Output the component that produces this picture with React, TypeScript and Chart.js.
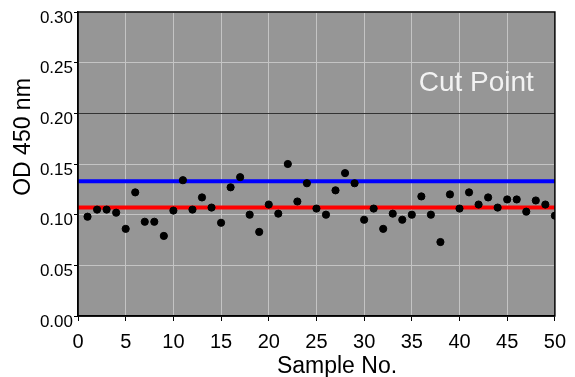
import React, { useEffect, useRef } from "react";
import { Chart, registerables } from "chart.js";

Chart.register(...registerables);

const sampleNo = [
  1, 2, 3, 4, 5, 6, 7, 8, 9, 10,
  11, 12, 13, 14, 15, 16, 17, 18, 19, 20,
  21, 22, 23, 24, 25, 26, 27, 28, 29, 30,
  31, 32, 33, 34, 35, 36, 37, 38, 39, 40,
  41, 42, 43, 44, 45, 46, 47, 48, 49, 50,
];
const od450 = [
  0.098, 0.105, 0.105, 0.102, 0.086, 0.122, 0.093, 0.093, 0.079, 0.104,
  0.134, 0.105, 0.117, 0.107, 0.092, 0.127, 0.137, 0.100, 0.083, 0.110,
  0.101, 0.150, 0.113, 0.131, 0.106, 0.100, 0.124, 0.141, 0.131, 0.095,
  0.106, 0.086, 0.101, 0.095, 0.100, 0.118, 0.100, 0.073, 0.120, 0.106,
  0.122, 0.110, 0.117, 0.107, 0.115, 0.115, 0.103, 0.114, 0.110, 0.099,
];
const meanLevel = 0.107;
const cutPointLevel = 0.133;
const xRange = [0, 50];
const yRange = [0, 0.3];
const cutPointLabel = "Cut Point";
const xTitle = "Sample No.";
const yTitle = "OD 450 nm";

const FONT = "'Liberation Sans', Arial, sans-serif";

const decorPlugin = {
  id: "decor",
  beforeDraw(chart: any) {
    const { ctx, chartArea } = chart;
    ctx.save();
    ctx.fillStyle = "#969696";
    ctx.fillRect(chartArea.left, chartArea.top, chartArea.right - chartArea.left, chartArea.bottom - chartArea.top);
    ctx.restore();
  },
  afterDraw(chart: any) {
    const { ctx, chartArea, scales } = chart;
    ctx.save();
    ctx.strokeStyle = "#000";
    ctx.lineWidth = 1.5;
    ctx.strokeRect(chartArea.left, chartArea.top, chartArea.right - chartArea.left, chartArea.bottom - chartArea.top);
    ctx.fillStyle = "#f2f2f2";
    ctx.font = `28px ${FONT}`;
    ctx.textAlign = "right";
    ctx.textBaseline = "alphabetic";
    ctx.fillText(cutPointLabel, scales.x.getPixelForValue(47.8), scales.y.getPixelForValue(0.2225));
    ctx.fillStyle = "#000";
    ctx.font = `23px ${FONT}`;
    ctx.textAlign = "center";
    ctx.fillText(xTitle, 337, 373);
    ctx.translate(24, 137);
    ctx.rotate(-Math.PI / 2);
    ctx.textBaseline = "middle";
    ctx.fillText(yTitle, 0, 0);
    ctx.restore();
  },
};

export default function App() {
  const ref = useRef<HTMLCanvasElement>(null);
  useEffect(() => {
    if (!ref.current) return;
    const chart = new Chart(ref.current, {
      type: "scatter",
      data: {
        datasets: [
          {
            label: "OD 450",
            data: sampleNo.map((s, i) => ({ x: s, y: od450[i] })),
            backgroundColor: "#000",
            borderColor: "#000",
            pointRadius: 3.6,
            pointHoverRadius: 3.6,
            order: 0,
          },
          {
            label: "Cut point",
            type: "line",
            data: xRange.map((x) => ({ x, y: cutPointLevel })),
            borderColor: "#0000ff",
            borderWidth: 4,
            pointRadius: 0,
            order: 1,
          },
          {
            label: "Mean",
            type: "line",
            data: xRange.map((x) => ({ x, y: meanLevel })),
            borderColor: "#ff0000",
            borderWidth: 4,
            pointRadius: 0,
            order: 1,
          },
        ],
      } as any,
      options: {
        animation: false,
        responsive: false,
        layout: { padding: { top: 12, right: 17, left: 0, bottom: 0 } },
        plugins: { legend: { display: false }, tooltip: { enabled: false } },
        scales: {
          x: {
            type: "linear",
            min: xRange[0],
            max: xRange[1],
            afterFit: (s: any) => { s.height = 61; },
            ticks: {
              stepSize: 5,
              color: "#000",
              font: { family: FONT, size: 20 },
              padding: 9,
              maxRotation: 0,
            },
            grid: {
              color: "#c4c4c4",
              lineWidth: 1,
              tickColor: "#000",
              tickLength: 5,
            },
            border: { display: true, color: "#000", width: 1.5 },
          },
          y: {
            type: "linear",
            min: yRange[0],
            max: yRange[1],
            afterFit: (s: any) => { s.width = 78; },
            ticks: {
              stepSize: 0.05,
              color: "#000",
              font: { family: FONT, size: 17 },
              padding: 1,
              labelOffset: 6,
              callback: (v: any) => Number(v).toFixed(2),
            },
            grid: {
              color: (c: any) => (c.tick && Math.abs(c.tick.value - 0.2) < 1e-9 ? "#333333" : "#c4c4c4"),
              lineWidth: 1,
              tickColor: "#000",
              tickLength: 4,
            },
            border: { display: true, color: "#000", width: 1.5 },
          },
        },
      } as any,
      plugins: [decorPlugin],
    });
    return () => chart.destroy();
  }, []);
  return (
    <div style={{ position: "absolute", left: 0, top: 0, width: 575, height: 377, background: "#fff" }}>
      <canvas ref={ref} width={575} height={377} style={{ width: 575, height: 377 }} />
    </div>
  );
}
